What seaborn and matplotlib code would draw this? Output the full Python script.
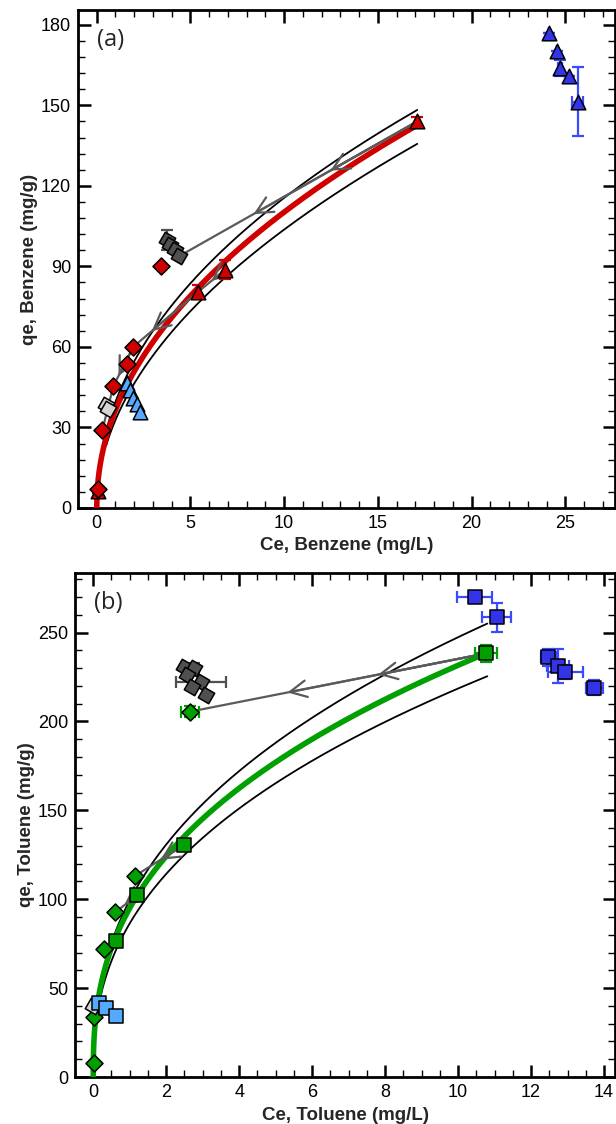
import numpy as np
import matplotlib
matplotlib.use("Agg")
import matplotlib.pyplot as plt
import seaborn as sns
from matplotlib.ticker import MultipleLocator

# ---------------- Panel (a): Benzene ----------------
a_red_tri_x = [17.1, 6.84, 5.42, 0.05]
a_red_tri_y = [144.0, 88.7, 80.6, 6.5]
a_red_tri_yerr = [1.5, 3.5, 2.5, 1.0]
a_red_dia_x = [0.05, 0.30, 0.89, 1.60, 1.96, 3.43]
a_red_dia_y = [7.0, 29.0, 45.5, 53.8, 60.1, 90.3]
a_lblue_tri_x = [1.60, 1.78, 1.96, 2.13, 2.31]
a_lblue_tri_y = [46.5, 44.0, 40.9, 38.8, 35.9]
a_lgrey_x = [0.50, 0.62]
a_lgrey_y = [38.3, 37.0]
a_dgrey_x = [3.75, 3.93, 4.20, 4.37]
a_dgrey_y = [99.9, 98.0, 96.2, 93.7]
a_dgrey_yerr = [3.7, 0.0, 0.0, 0.0]
a_blue_tri_x = [24.13, 24.58, 24.72, 25.17, 25.66]
a_blue_tri_y = [176.9, 170.1, 163.9, 160.8, 151.4]
a_blue_xerr = [0.0, 0.0, 0.1, 0.0, 0.3]
a_blue_yerr = [0.0, 0.0, 3.0, 0.0, 13.0]
# desorption paths: (x0, y0, x1, y1) and chevron fractions along each
a_paths = [(17.1, 144.0, 4.37, 93.7), (6.84, 88.7, 5.42, 80.6),
           (5.42, 80.6, 1.96, 60.1), (1.96, 60.1, 0.89, 45.5),
           (0.89, 45.5, 0.30, 29.0)]
a_chevrons = [[0.364, 0.686], [0.5], [0.72], [0.75], []]
# Freundlich fit (K, 1/n) and confidence band, with C range
a_fit = (36.5, 0.48, 0.0, 17.1)
a_band_hi = (39.6, 0.465, 0.3, 17.1)
a_band_lo = (32.8, 0.50, 0.5, 17.1)
a_xticks = [0, 5, 10, 15, 20, 25]
a_yticks = [0, 30, 60, 90, 120, 150, 180]

# ---------------- Panel (b): Toluene ----------------
b_green_sq_x = [10.77, 2.49, 1.21, 0.62]
b_green_sq_y = [238.3, 130.5, 102.4, 76.5]
b_green_sq_xerr = [0.3, 0.0, 0.0, 0.0]
b_green_sq_yerr = [4.7, 0.0, 0.0, 0.0]
b_green_dia_x = [2.65, 1.15, 0.60, 0.30, 0.03, 0.01]
b_green_dia_y = [205.5, 113.2, 92.6, 71.8, 33.9, 8.0]
b_green_dia_xerr = [0.25, 0, 0, 0, 0, 0]
b_green_dia_yerr = [3.0, 0, 0, 0, 0, 0]
b_lblue_sq_x = [0.16, 0.35, 0.62]
b_lblue_sq_y = [41.4, 38.6, 34.3]
b_lgrey_x = [-0.02]
b_lgrey_y = [40.0]
b_dgrey_x = [2.49, 2.76, 2.58, 2.95, 2.72, 3.08]
b_dgrey_y = [230.8, 229.9, 226.1, 222.3, 219.5, 214.8]
b_dgrey_xerr = [0, 0, 0, 0.68, 0, 0]
b_dgrey_yerr = [0, 3.0, 0, 0, 0, 0]
b_blue_sq_x = [10.45, 11.06, 12.47, 12.73, 12.94, 13.73]
b_blue_sq_y = [270.1, 258.5, 236.0, 231.2, 227.6, 219.0]
b_blue_xerr = [0.48, 0.40, 0.20, 0.30, 0.48, 0.23]
b_blue_yerr = [2.0, 8.3, 5.0, 9.4, 4.0, 4.4]
b_paths = [(10.77, 238.3, 2.65, 205.5), (2.49, 130.5, 1.15, 113.2),
           (1.21, 102.4, 0.60, 92.6), (0.62, 76.5, 0.30, 71.8)]
b_chevrons = [[0.365, 0.671], [0.48], [0.59], []]
b_fit = (95.0, 0.387, 0.0, 10.8)
b_band_hi = (99.4, 0.396, 0.15, 10.8)
b_band_lo = (86.4, 0.403, 0.15, 10.8)
b_xticks = [0, 2, 4, 6, 8, 10, 12, 14]
b_yticks = [0, 50, 100, 150, 200, 250]

sns.set_theme(style="ticks")
plt.rcParams["font.family"] = ["Liberation Sans", "DejaVu Sans"]

RED = "#d00000"
GREEN = "#00a000"
LBLUE = "#55aaff"
BLUE = "#3333e8"
BLUE_ERR = "#3a4bff"
DGREY = "#505050"
LGREY = "#d4d4d4"
PATHC = "#5a5a5a"

fig = plt.figure(figsize=(6.16, 11.24), dpi=100)
axa = fig.add_axes([78 / 616, 1 - 508 / 1124, 537 / 616, 498 / 1124])
axb = fig.add_axes([75 / 616, 1 - 1077 / 1124, 540 / 616, 504 / 1124])


def curve(ax, params, color, lw, z):
    K, n, c0, c1 = params
    c = np.concatenate([np.linspace(c0, c0 + 0.05 * (c1 - c0), 120)[:-1],
                        np.linspace(c0 + 0.05 * (c1 - c0), c1, 300)])
    sns.lineplot(x=c, y=K * c ** n, ax=ax, color=color, lw=lw,
                 sort=False, estimator=None, zorder=z)


def paths(ax, segs, chev):
    for (x0, y0, x1, y1), fr in zip(segs, chev):
        sns.lineplot(x=[x0, x1], y=[y0, y1], ax=ax, color=PATHC, lw=1.6,
                     sort=False, estimator=None, zorder=4)
        for f in fr:
            tip = (x0 + f * (x1 - x0), y0 + f * (y1 - y0))
            ax.annotate("", xy=tip, xytext=(x0, y0),
                        arrowprops=dict(arrowstyle="->,head_length=1.0,head_width=0.5",
                                        color=PATHC, lw=1.6, shrinkA=0, shrinkB=0),
                        zorder=4)


def pts(ax, x, y, marker, color, s, z=6, xerr=None, yerr=None, ecolor=None):
    if xerr is not None or yerr is not None:
        ax.errorbar(x, y, xerr=xerr, yerr=yerr, fmt="none", ecolor=ecolor,
                    elinewidth=1.6, capsize=4, capthick=1.6, zorder=z - 0.5)
    sns.scatterplot(x=x, y=y, ax=ax, marker=marker, s=s, color=color,
                    edgecolor="black", linewidth=1.1, zorder=z, legend=False)


SQT = (4, 0, 15)  # tilted square

# ---- panel a ----
curve(axa, a_band_hi, "black", 1.3, 2)
curve(axa, a_band_lo, "black", 1.3, 2)
curve(axa, a_fit, RED, 4.0, 3)
paths(axa, a_paths, a_chevrons)
pts(axa, a_red_tri_x, a_red_tri_y, "^", RED, 110, yerr=a_red_tri_yerr, ecolor=RED)
pts(axa, a_red_dia_x, a_red_dia_y, "D", RED, 75)
pts(axa, a_lblue_tri_x, a_lblue_tri_y, "^", LBLUE, 110)
pts(axa, a_lgrey_x, a_lgrey_y, SQT, LGREY, 150)
pts(axa, a_dgrey_x, a_dgrey_y, SQT, DGREY, 150, yerr=a_dgrey_yerr, ecolor=DGREY)
pts(axa, a_blue_tri_x, a_blue_tri_y, "^", BLUE, 110,
    xerr=a_blue_xerr, yerr=a_blue_yerr, ecolor=BLUE_ERR)

# ---- panel b ----
curve(axb, b_band_hi, "black", 1.3, 2)
curve(axb, b_band_lo, "black", 1.3, 2)
curve(axb, b_fit, GREEN, 4.0, 3)
paths(axb, b_paths, b_chevrons)
pts(axb, b_green_sq_x, b_green_sq_y, "s", GREEN, 100,
    xerr=b_green_sq_xerr, yerr=b_green_sq_yerr, ecolor=GREEN)
pts(axb, b_green_dia_x, b_green_dia_y, "D", GREEN, 75,
    xerr=b_green_dia_xerr, yerr=b_green_dia_yerr, ecolor=GREEN)
pts(axb, b_lgrey_x, b_lgrey_y, SQT, LGREY, 150)
pts(axb, b_lblue_sq_x, b_lblue_sq_y, "s", LBLUE, 100)
pts(axb, b_dgrey_x, b_dgrey_y, SQT, DGREY, 150,
    xerr=b_dgrey_xerr, yerr=b_dgrey_yerr, ecolor=DGREY)
pts(axb, b_blue_sq_x, b_blue_sq_y, "s", BLUE, 100,
    xerr=b_blue_xerr, yerr=b_blue_yerr, ecolor=BLUE_ERR)


def style(ax, xlim, ylim, xt, yt, xminor, yminor, xlabel, ylabel, tag):
    ax.set_xlim(*xlim)
    ax.set_ylim(*ylim)
    ax.set_xticks(xt)
    ax.set_yticks(yt)
    ax.xaxis.set_minor_locator(MultipleLocator(xminor))
    ax.yaxis.set_minor_locator(MultipleLocator(yminor))
    ax.tick_params(which="both", direction="in", top=True, right=True,
                   labelsize=13, colors="black")
    ax.tick_params(which="major", length=9, width=1.8, pad=5)
    ax.tick_params(which="minor", length=5, width=1.0)
    for sp in ax.spines.values():
        sp.set_linewidth(2.0)
        sp.set_color("black")
    ax.set_xlabel(xlabel, fontsize=13.5, fontweight="bold", labelpad=4)
    ax.set_ylabel(ylabel, fontsize=13.5, fontweight="bold", labelpad=2)
    ax.text(0.035, 0.94, tag, transform=ax.transAxes, fontsize=17,
            family=["Open Sans", "DejaVu Sans"], ha="left", va="center")


style(axa, (-1, 27.65), (0, 185.5), a_xticks, a_yticks, 1, 6,
      "Ce, Benzene (mg/L)", "qe, Benzene (mg/g)", "(a)")
style(axb, (-0.5, 14.3), (0, 283.5), b_xticks, b_yticks, 0.5, 10,
      "Ce, Toluene (mg/L)", "qe, Toluene (mg/g)", "(b)")

fig.savefig("out.png", dpi=100)
